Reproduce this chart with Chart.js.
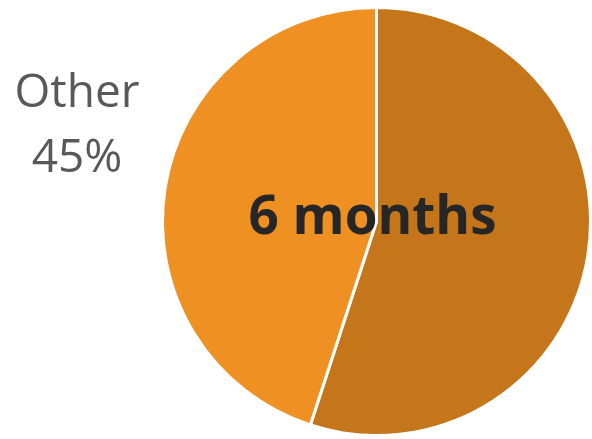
<!DOCTYPE html>
<html>
<head>
<meta charset="utf-8">
<script src="https://cdn.jsdelivr.net/npm/chart.js@4"></script>
<style>
  html, body { margin: 0; padding: 0; background: #ffffff; }
  #wrap { width: 592px; height: 439px; position: relative; }
</style>
</head>
<body>
<div id="wrap"><canvas id="pieChart" width="592" height="439"></canvas></div>
<script>
const labels = ['6 months', 'Other'];
const shares = [55, 45];
const colors = ['#C5761B', '#EF9022'];

// slice captions: the big one sits in the middle, the small one off to the left
const captionPlugin = {
    id: 'captions',
    afterDraw(chart) {
        const ctx = chart.ctx;
        const arc = chart.getDatasetMeta(0).data[0];
        ctx.save();
        ctx.textAlign = 'center';
        ctx.textBaseline = 'middle';

        ctx.fillStyle = '#262626';
        ctx.font = 'bold 53px "Open Sans"';
        ctx.fillText(labels[0], arc.x - 4, arc.y - 3);

        ctx.fillStyle = '#595959';
        ctx.font = '46px "Open Sans"';
        ctx.fillText(labels[1], 77, 94);
        ctx.fillText(shares[1] + '%', 77, 159);
        ctx.restore();
    }
};

new Chart(document.getElementById('pieChart').getContext('2d'), {
    type: 'pie',
    data: {
        labels: labels,
        datasets: [{
            data: shares,
            backgroundColor: colors,
            borderColor: '#ffffff',
            borderWidth: 3,
            hoverOffset: 0
        }]
    },
    options: {
        responsive: false,
        animation: false,
        layout: { padding: { left: 161, right: -2, top: 5, bottom: 1 } },
        plugins: {
            legend: { display: false },
            tooltip: { enabled: false }
        }
    },
    plugins: [captionPlugin]
});
</script>
</body>
</html>
